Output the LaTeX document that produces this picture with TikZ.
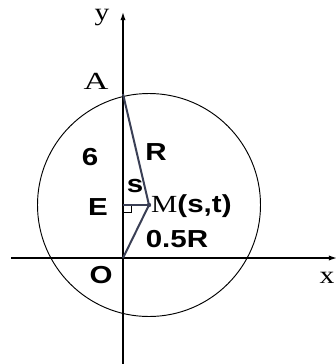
\documentclass[tikz,border=0pt]{standalone}
\usepackage{fontspec}
\setmainfont{Liberation Serif}
\setsansfont{Liberation Sans}
\usetikzlibrary{arrows.meta, positioning}
\definecolor{segcol}{HTML}{3A3F55}
\newcommand{\wide}[1]{\scalebox{1.2}[1]{#1}}

\tikzset{
  axis/.style={line width=1.1pt, -{Latex[length=7pt,width=4.5pt]}},
  lbl/.style={font=\fontsize{21}{24}\selectfont\sffamily\bfseries, inner sep=0pt},
  slbl/.style={font=\fontsize{21}{24}\selectfont\rmfamily, inner sep=0pt},
  seg/.style={segcol, line width=1.7pt}
}

\begin{document}
\begin{tikzpicture}[x=0.03cm, y=-0.03cm]
\useasboundingbox (0,0) rectangle (335,364);
\fill[white] (0,0) rectangle (335,364);
% axes
\coordinate (xs) at (11,258);
\coordinate (xe) at (337,258);
\coordinate (ys) at (123,364);
\coordinate (ye) at (123,12);
\draw[axis] (xs) -- (xe);
\draw[axis] (ys) -- (ye);
% points
\coordinate (O) at (123,258);
\coordinate (A) at (123,94);
\coordinate (E) at (123,205);
\coordinate (M) at (149,205);
% circle round M
\draw[line width=0.8pt] (M) circle[radius=111.5];
% right angle at E
\draw[line width=0.6pt] (123,212) -- (131,212) -- (131,205);
\draw[seg] (E) -- (M);
\draw[seg] (A) -- (M) -- (O);
\fill[segcol] (M) circle[radius=2.2];
% labels
\node[slbl] (ylbl) at (102,18) {\wide{y}};
\node[slbl] (Albl) at (96,81) {\scalebox{1.4}[1]{A}};
\node[lbl] (sixlbl) at (90,157) {\wide{6}};
\node[lbl] (Rlbl) at (156,152) {\wide{R}};
\node[lbl] (slbl) at (135,186) {\wide{s}};
\node[lbl] (Elbl) at (98,207) {\wide{E}};
\node[anchor=west, inner sep=0pt] (Mlbl) at (151,206)
  {\wide{\fontsize{21}{24}\selectfont\rmfamily M\sffamily\bfseries(s,t)}};
\node[lbl] (hlbl) at (177,239) {\wide{0.5R}};
\node[lbl] (Olbl) at (101,275) {\wide{O}};
\node[slbl] (xlbl) at (327,278) {\wide{x}};
\end{tikzpicture}
\end{document}
